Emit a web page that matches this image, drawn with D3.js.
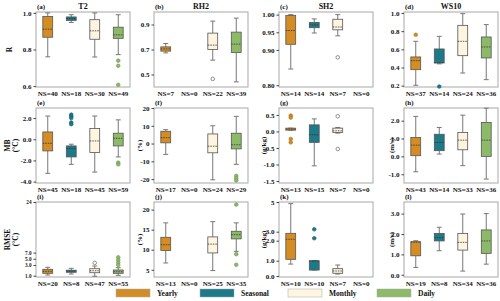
<!DOCTYPE html>
<html><head><meta charset="utf-8">
<script src="https://cdn.jsdelivr.net/npm/d3@7"></script>
<style>body{margin:0;background:#fff}svg{display:block;font-family:"Liberation Serif","Times New Roman",serif;font-weight:bold}</style>
</head><body><svg id="c" width="500" height="301"></svg>
<script>
const groups = ["Yearly","Seasonal","Monthly","Daily"];
const colors = ["#D38D24","#1D7A88","#FDF5DF","#8DBA68"];
// stats: [min, q1, median, q3, max, outliers]
const statsA = [[0.76,0.867,0.911,0.981,1.0,[]],[0.948,0.959,0.969,0.978,0.99,[]],[0.759,0.856,0.902,0.963,1.0,[]],[0.772,0.861,0.88,0.922,0.99,[0.739,0.711,0.607]]];
const statsB = [[0.673,0.687,0.705,0.721,0.748,[]],null,[0.615,0.70,0.735,0.831,0.927,[0.465]],[0.441,0.676,0.743,0.839,0.951,[]]];
const statsC = [[0.846,0.916,0.955,0.998,1.0,[]],[0.948,0.963,0.971,0.978,0.988,[]],[0.94,0.957,0.965,0.987,1.0,[0.879]],null];
const statsD = [[0.204,0.376,0.475,0.516,0.688,[0.761]],[0.44,0.45,0.452,0.604,0.743,[0.19]],[0.339,0.53,0.688,0.864,0.993,[]],[0.266,0.505,0.626,0.736,0.872,[]]];
const statsE = [[-3.22,-1.1,-0.38,0.69,2.19,[]],[-2.37,-1.67,-0.88,-0.63,-0.47,[2.32,2.16,2.0,1.58,1.42]],[-3.1,-1.26,-0.16,1.01,2.19,[]],[-1.67,-0.63,0.09,0.57,1.83,[-2.21,-2.37]]];
const statsF = [[-6.1,0.4,3.3,6.9,7.8,[]],null,[-20.4,-5.2,-1.5,5.4,10,[]],[-11.7,-3.0,-0.7,5.8,15.3,[-18.2,-19.5,-20.8]]];
const statsG = [[0.04,0.04,0.07,0.1,0.1,[0.48,0.42,-0.23,-0.33]],[-1.04,-0.33,-0.1,0.2,0.38,[]],[-0.05,-0.03,0.02,0.1,0.12,[0.46,-0.53]],null];
const statsH = [[-0.86,0.04,0.63,1.06,2.24,[]],[0.13,0.32,0.78,1.24,1.62,[]],[-0.52,0.37,0.91,1.34,2.31,[]],[-1.27,0.0,0.91,1.9,2.7,[]]];
const statsI = [[1.13,1.45,1.82,2.2,2.57,[]],[1.32,1.64,1.88,2.03,2.38,[]],[0.95,1.56,1.93,2.31,2.81,[3.68]],[1.07,1.45,1.75,2.07,2.5,[5.47,4.6,3.8,3.0]]];
const statsJ = [[6.7,9.8,11.25,13.1,16.7,[]],null,[4.8,9.2,11.4,13.2,17,[]],[9.6,12.7,13.75,14.6,16.7,[21.25,8.9,6.25]]];
const statsK = [[0.78,1.07,2.16,2.82,4.89,[]],[0.39,0.39,0.98,1.0,1.0,[3.16,2.27]],[0.13,0.18,0.33,0.48,0.72,[]],null];
const statsL = [[0.36,0.93,1.6,1.62,1.67,[]],[1.18,1.66,1.82,2.03,2.33,[]],[0.18,1.21,1.59,2.03,2.98,[]],[0.52,1.05,1.66,2.2,3.0,[]]];
const nsA = [40,18,30,49], nsB = [7,0,22,39], nsC = [14,14,7,0], nsD = [37,14,24,36];
const nsE = [45,18,45,59], nsF = [17,0,24,29], nsG = [13,15,7,0], nsH = [43,14,33,36];
const nsI = [20,8,47,55], nsJ = [13,0,25,35], nsK = [10,10,7,0], nsL = [19,8,34,36];
const titles = ["T2","RH2","SH2","WS10"];
const letters = ["(a)","(b)","(c)","(d)","(e)","(f)","(g)","(h)","(i)","(j)","(k)","(l)"];
const ticksA=[0.6,0.8,1.0], ticksB=[0.5,0.7,0.9], ticksC=[0.80,0.90,0.95,1.00], ticksD=[0.2,0.4,0.6,0.8,1.0];
const ticksE=[-4,-2,0,2], ticksF=[-20,-10,0,10,20], ticksG=[-1.5,-1,-0.5,0,0.5], ticksH=[-1,0,1,2];
const ticksI=[1,3,5,7,24], ticksJ=[5,10,15,20], ticksK=[0,1,2,3,5], ticksL=[0,1,2,3];

const svg = d3.select("#c");
const lefts=[36,154,279,404], W=94;
const tops=[12,108,202], H=75;
const panels = [
 {s:statsA,n:nsA,t:ticksA,f:".1f",dom:[0.595,1.005]},
 {s:statsB,n:nsB,t:ticksB,f:".1f",dom:[0.4,1.0]},
 {s:statsC,n:nsC,t:ticksC,f:".2f",dom:[0.795,1.0075]},
 {s:statsD,n:nsD,t:ticksD,f:".1f",dom:[0.185,1.011]},
 {s:statsE,n:nsE,t:ticksE,f:".1f",dom:[-4.13,2.95]},
 {s:statsF,n:nsF,t:ticksF,f:"d",dom:[-22.2,20]},
 {s:statsG,n:nsG,t:ticksG,f:".1f",dom:[-1.56,0.71]},
 {s:statsH,n:nsH,t:ticksH,f:".1f",dom:[-1.49,2.71]},
 {s:statsI,n:nsI,t:ticksI,f:"i",dom:[0.88,1,3,5,7,24],rng:[1,0.983,0.84,0.757,0.675,0],fs:5.2},
 {s:statsJ,n:nsJ,t:ticksJ,f:"d",dom:[3.2,21.9]},
 {s:statsK,n:nsK,t:ticksK,f:"k",dom:[0,1,2,3,5],rng:[0.987,0.783,0.516,0.396,0]},
 {s:statsL,n:nsL,t:ticksL,f:".1f",dom:[-0.11,3.57]}
];
const ylab = [["R"],["MB","(°C)"],["RMSE","(°C)"]];
const units = ["(%)","(g/kg)","(m/s)"];

panels.forEach((p,i)=>{
  const r=Math.floor(i/4), c=i%4;
  const g=svg.append("g").attr("transform",`translate(${lefts[c]},${tops[r]})`);
  const x=d3.scaleBand().domain(groups).range([0,W]).paddingInner(0).paddingOuter(0);
  let y;
  if(p.rng){ y=d3.scaleLinear().domain(p.dom).range(p.rng.map(v=>v*H)); }
  else y=d3.scaleLinear().domain(p.dom).range([H,0]);
  g.append("rect").attr("width",W).attr("height",H).attr("fill","none").attr("stroke","#a8a8a8").attr("stroke-width",1);
  const fmt = p.f==="i" ? (v=>v===24?"24":d3.format(".1f")(v)) : p.f==="k" ? (v=>v===5?"5":d3.format(".1f")(v)) : d3.format(p.f);
  const ax=g.append("g").call(d3.axisLeft(y).tickValues(p.t).tickSize(2.5).tickPadding(2).tickFormat(v=>fmt(v).replace("−","-")));
  ax.select(".domain").remove();
  ax.selectAll("line").attr("stroke","#444");
  ax.selectAll("text").attr("font-size",p.fs||7).attr("fill","#111").attr("font-family","Liberation Serif").attr("font-weight","bold");
  const bw=x.bandwidth()*0.42;
  p.s.forEach((st,k)=>{
    const cx=x(groups[k])+x.bandwidth()/2;
    if(st){
      const [mn,q1,md,q3,mx,out]=st;
      const gg=g.append("g");
      gg.append("line").attr("x1",cx).attr("x2",cx).attr("y1",y(mx)).attr("y2",y(q3)).attr("stroke","#777").attr("stroke-width",1);
      gg.append("line").attr("x1",cx).attr("x2",cx).attr("y1",y(q1)).attr("y2",y(mn)).attr("stroke","#777").attr("stroke-width",1);
      [mn,mx].forEach(v=>gg.append("line").attr("x1",cx-bw/4).attr("x2",cx+bw/4).attr("y1",y(v)).attr("y2",y(v)).attr("stroke","#777").attr("stroke-width",1));
      gg.append("rect").attr("x",cx-bw/2).attr("width",bw).attr("y",y(q3)).attr("height",Math.max(1,y(q1)-y(q3)))
        .attr("fill",colors[k]).attr("stroke","#555").attr("stroke-width",0.8);
      gg.append("line").attr("x1",cx-bw/2).attr("x2",cx+bw/2).attr("y1",y(md)).attr("y2",y(md)).attr("stroke","#333").attr("stroke-width",0.8).attr("stroke-dasharray","1.5,1");
      out.forEach(o=>gg.append("circle").attr("cx",cx).attr("cy",y(o)).attr("r",1.8)
        .attr("fill",k===2?"#fff":colors[k]).attr("stroke",k===2?"#666":d3.color(colors[k]).darker(0.5)).attr("stroke-width",0.7));
    }
    g.append("text").attr("x",cx).attr("y",H+9).attr("text-anchor","middle").attr("font-size",7).attr("fill","#111").text("NS="+p.n[k]);
  });
  g.append("text").attr("x",1).attr("y",-3).attr("font-size",7).attr("fill","#111").text(letters[i]);
  if(r===0) g.append("text").attr("x",W/2).attr("y",-3).attr("text-anchor","middle").attr("font-size",8).attr("fill","#111").text(titles[c]);
  if(c===0){
    const lines=ylab[r];
    lines.forEach((t,j)=>{
      const xx = lines.length===1 ? -24 : -26+j*7.5;
      g.append("text").attr("transform",`translate(${xx},${H/2}) rotate(-90)`).attr("text-anchor","middle").attr("font-size",7.5).attr("fill","#111").text(t);
    });
  } else if(r>0){
    g.append("text").attr("transform",`translate(${-10- (c===1?2:c===2?3:0)},${H/2}) rotate(-90)`).attr("text-anchor","middle").attr("font-size",7).attr("fill","#111").text(units[c-1]);
  }
});
// legend
const lx=[116,200,288,377];
groups.forEach((gname,k)=>{
  svg.append("rect").attr("x",lx[k]).attr("y",289).attr("width",34).attr("height",8).attr("fill",colors[k]).attr("stroke","#aaa").attr("stroke-width",0.5);
  svg.append("text").attr("x",lx[k]+41).attr("y",296).attr("font-size",7.5).attr("fill","#111").text(gname);
});
</script></body></html>
